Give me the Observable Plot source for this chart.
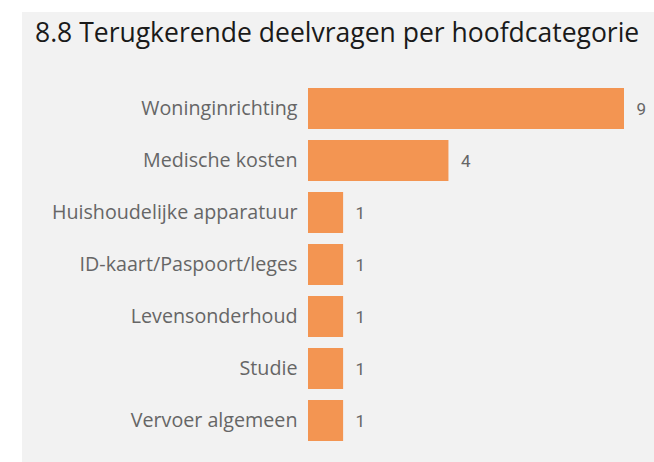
<!DOCTYPE html>
<html>
<head>
<meta charset="utf-8">
<script src="https://cdn.jsdelivr.net/npm/d3@7"></script>
<script src="https://cdn.jsdelivr.net/npm/@observablehq/plot@0.6"></script>
<style>
  html, body { margin: 0; padding: 0; background: #ffffff; }
  #wrap { position: relative; width: 654px; height: 462px; overflow: hidden; }
  #panel { position: absolute; left: 22px; top: 12px; width: 632px; height: 450px; background: #f2f2f2; }
  #title { position: absolute; left: 35px; top: 12px; font-family: "Open Sans", sans-serif; font-size: 26.5px; color: #1a1a1a; white-space: nowrap; line-height: 40px; }
  #chart { position: absolute; left: 0; top: 0; }
  #chart svg { background: transparent; }
</style>
</head>
<body>
<div id="wrap">
  <div id="panel"></div>
  <div id="title">8.8 Terugkerende deelvragen per hoofdcategorie</div>
  <div id="chart"></div>
</div>
<script>
const categories = ["Woninginrichting", "Medische kosten", "Huishoudelijke apparatuur", "ID-kaart/Paspoort/leges", "Levensonderhoud", "Studie", "Vervoer algemeen"];
const counts = [9, 4, 1, 1, 1, 1, 1];

const data = categories.map((c, i) => ({category: c, count: counts[i]}));

const plot = Plot.plot({
  width: 654,
  height: 462,
  marginLeft: 308,
  marginRight: 30,
  marginTop: 81.3,
  marginBottom: 14.3,
  style: {background: "transparent", fontFamily: "Open Sans, sans-serif"},
  x: {domain: [0, 9], axis: null},
  y: {domain: categories, paddingInner: 0.216, paddingOuter: 0.108, label: null},
  marks: [
    Plot.barX(data, {x: "count", y: "category", fill: "#f39552"}),
    Plot.axisY({tickSize: 0, tickPadding: 11, fontSize: 19.7, fill: "#666666", label: null}),
    Plot.text(data, {x: "count", y: "category", text: d => String(d.count), textAnchor: "start", dx: 12, dy: 1, fontSize: 17, fontFamily: "Roboto, sans-serif", fill: "#666666"})
  ]
});
document.getElementById("chart").appendChild(plot);
</script>
</body>
</html>
